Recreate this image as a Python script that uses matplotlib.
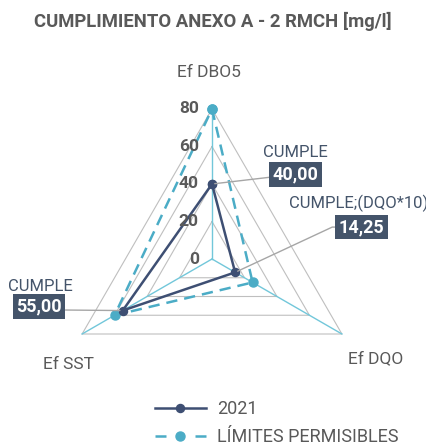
import numpy as np
import matplotlib
matplotlib.use("Agg")
import matplotlib.pyplot as plt
from matplotlib import font_manager
from matplotlib.lines import Line2D

# ---- data ----
categories = ["Ef DBO5", "Ef DQO", "Ef SST"]
values_2021 = [40.00, 14.25, 55.00]
values_limit = [80, 25, 60]
rings = [20, 40, 60, 80]
tick_values = [0, 20, 40, 60, 80]
value_labels = ["40,00", "14,25", "55,00"]
status_labels = ["CUMPLE", "CUMPLE;(DQO*10)", "CUMPLE"]
series_names = ["2021", "LÍMITES PERMISIBLES"]
title = "CUMPLIMIENTO ANEXO A - 2 RMCH [mg/l]"


def pick_family(names):
    for n in names:
        try:
            font_manager.findfont(font_manager.FontProperties(family=n),
                                  fallback_to_default=False)
            return n
        except Exception:
            pass
    return "DejaVu Sans"


family = pick_family(["Liberation Sans Narrow", "Roboto", "Liberation Sans"])
plt.rcParams["font.family"] = [family, "DejaVu Sans"]

GREY_TXT = "#595959"
NAVY = "#3e4f73"
TEAL = "#4bacc6"
SPOKE = "#72c7da"
GRID = "#bfbfbf"
BOX = "#44546a"

W, H = 427, 447
fig = plt.figure(figsize=(W / 100, H / 100), dpi=100)
cx, cy, R = 212, 259, 150
ax = fig.add_axes([(cx - R) / W, (H - cy - R) / H, 2 * R / W, 2 * R / H],
                  projection="polar")
ax.set_theta_zero_location("N")
ax.set_theta_direction(-1)
ax.set_ylim(0, 80)
ax.grid(False)
ax.set_xticks([])
ax.set_yticks([])
ax.spines["polar"].set_visible(False)
ax.patch.set_visible(False)

theta = np.linspace(0, 2 * np.pi, len(categories), endpoint=False)
closed = np.append(theta, theta[0])

# triangular grid
for r in rings:
    ax.plot(closed, [r] * len(closed), color=GRID, lw=0.8, clip_on=False, zorder=1)
# spokes
for t in theta:
    ax.plot([t, t], [0, 80], color=SPOKE, lw=1.0, clip_on=False, zorder=2)

ax.plot(closed, np.append(values_limit, values_limit[0]), color=TEAL,
        lw=1.8, ls=(0, (4.5, 2.8)), marker="o", ms=6.5, clip_on=False, zorder=3)
s_line, = ax.plot(closed, np.append(values_2021, values_2021[0]), color=NAVY,
                  lw=1.8, marker="o", ms=5.8, clip_on=False, zorder=4)

# radial tick labels
for v in tick_values:
    ax.annotate(str(v), xy=(0, v), xytext=(-9.5, 0), textcoords="offset points",
                ha="right", va="center", fontsize=12.5, fontweight="bold",
                color=GREY_TXT, zorder=5)

# category labels
cat_offsets = [(-2.5, 26), (24.5, -18), (-10, -22)]
for t, name, off in zip(theta, categories, cat_offsets):
    ax.annotate(name, xy=(t, 80), xytext=off, textcoords="offset points",
                ha="center", va="center", fontsize=12.5, color=GREY_TXT)

# data labels
box_offsets = [(60, 7), (91, 32.6), (-60, 3)]
status_offsets = [(60, 22.5), (89, 50), (-59.5, 17)]
conn = ["arc3,rad=0", "angle,angleA=0,angleB=25,rad=0", "arc3,rad=0"]
relpos = [(0.5, 0.5), (0.5, 0.5), (1.0, 0.3)]
for t, v, vl, sl, bo, so, cs, rp in zip(theta, values_2021, value_labels,
                                         status_labels, box_offsets,
                                         status_offsets, conn, relpos):
    ax.annotate(vl, xy=(t, v), xytext=bo, textcoords="offset points",
                ha="center", va="center", color="white", fontsize=13,
                fontweight="bold", zorder=6,
                bbox=dict(boxstyle="square,pad=0.18", fc=BOX, ec="none"),
                arrowprops=dict(arrowstyle="-", color="#a6a6a6", lw=1.0,
                                shrinkA=0, shrinkB=2, connectionstyle=cs,
                                relpos=rp))
    ax.annotate(sl, xy=(t, v), xytext=so, textcoords="offset points",
                ha="center", va="center", color=BOX, fontsize=12, zorder=6)

fig.text(213 / W, 1 - 21.5 / H, title, ha="center", va="center",
         fontsize=13.3, fontweight="bold", color=GREY_TXT)

# legend key for the limits: short dash on each side of the dot
lim_key = Line2D([], [], color=TEAL, lw=1.8, ls=(0, (4.4, 11.6)),
                 marker="o", ms=6.5)
leg = fig.legend([s_line, lim_key], series_names, loc="upper left",
                 bbox_to_anchor=(155 / W, 1 - 400 / H), frameon=False,
                 fontsize=13, handlelength=2.8, handletextpad=0.65,
                 labelspacing=0.55, borderpad=0, borderaxespad=0)
for txt in leg.get_texts():
    txt.set_color(GREY_TXT)

fig.savefig("out.png", dpi=100)
